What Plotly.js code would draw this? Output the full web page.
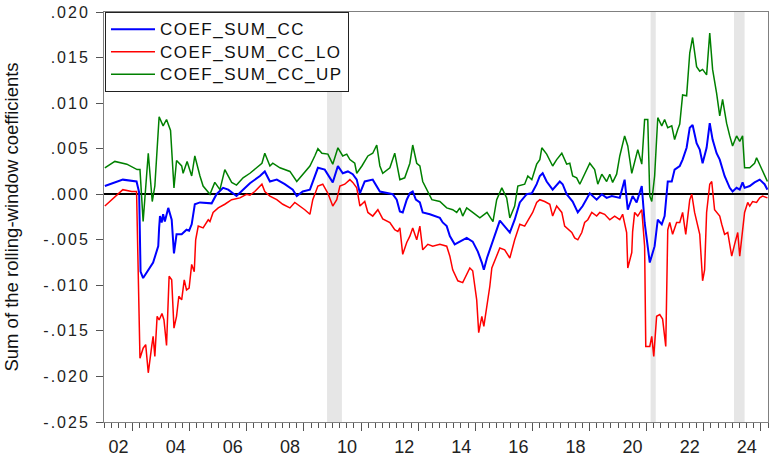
<!DOCTYPE html>
<html>
<head>
<meta charset="utf-8">
<script src="https://cdn.plot.ly/plotly-3.0.1.min.js"></script>
<style>
html,body{margin:0;padding:0;background:#fff;}
#chart{width:773px;height:456px;}
.legendtext{letter-spacing:1.5px;font-size:17px !important;}
.ytick text{letter-spacing:2px;}
</style>
</head>
<body>
<div id="chart"></div>
<script>
// ---- data (decimal year, value) ----
const ccT = [2002.03,2002.66,2003.14,2003.23,2003.28,2003.37,2003.72,2003.90,2003.93,2003.96,2004.02,2004.07,2004.13,2004.25,2004.37,2004.45,2004.54,2004.72,2004.89,2004.98,2005.07,2005.18,2005.36,2005.77,2005.94,2006.17,2006.35,2006.64,2006.87,2007.11,2007.46,2007.63,2007.81,2008.05,2008.33,2008.61,2008.75,2008.96,2009.21,2009.38,2009.49,2009.73,2009.91,2010.01,2010.19,2010.36,2010.54,2010.71,2010.85,2010.96,2011.13,2011.41,2011.66,2011.90,2012.11,2012.25,2012.36,2012.46,2012.60,2012.71,2012.81,2012.92,2013.06,2013.16,2013.41,2013.76,2013.86,2014.00,2014.11,2014.28,2014.46,2014.70,2014.91,2015.09,2015.23,2015.30,2015.41,2015.51,2015.62,2015.75,2015.86,2016.21,2016.38,2016.56,2016.80,2016.98,2017.15,2017.26,2017.36,2017.50,2017.71,2017.96,2018.06,2018.20,2018.41,2018.59,2018.76,2019.01,2019.25,2019.43,2019.60,2019.78,2020.06,2020.23,2020.34,2020.51,2020.65,2020.83,2020.93,2021.11,2021.28,2021.39,2021.53,2021.63,2021.74,2021.88,2021.98,2022.16,2022.26,2022.40,2022.51,2022.61,2022.75,2022.86,2022.96,2023.10,2023.21,2023.31,2023.45,2023.56,2023.73,2023.91,2024.01,2024.15,2024.26,2024.36,2024.43,2024.61,2024.78,2024.96,2025.13,2025.23];
const ccV = [0.0009,0.0016,0.0014,0.0002,-0.0085,-0.0092,-0.0075,-0.0057,-0.0037,-0.0024,-0.0031,-0.0022,-0.0030,-0.0015,-0.0028,-0.0065,-0.0044,-0.0044,-0.0039,-0.0040,-0.0033,-0.0011,-0.0009,-0.0010,0.0000,0.0007,0.0005,-0.0002,0.0005,0.0012,0.0020,0.0025,0.0014,0.0016,0.0011,0.0005,-0.0002,0.0003,0.0005,0.0020,0.0029,0.0027,0.0018,0.0013,0.0031,0.0023,0.0025,0.0022,0.0016,0.0001,0.0014,0.0016,0.0003,0.0001,0.0000,-0.0006,-0.0019,-0.0020,-0.0006,0.0001,0.0003,-0.0006,-0.0009,-0.0020,-0.0022,-0.0026,-0.0031,-0.0035,-0.0046,-0.0055,-0.0052,-0.0048,-0.0052,-0.0063,-0.0075,-0.0083,-0.0070,-0.0061,-0.0050,-0.0039,-0.0029,-0.0042,-0.0028,-0.0009,0.0000,0.0001,0.0011,0.0020,0.0023,0.0014,0.0005,0.0014,0.0011,0.0000,-0.0008,-0.0020,-0.0013,0.0001,-0.0006,0.0000,-0.0004,-0.0002,-0.0004,0.0016,-0.0017,-0.0002,-0.0009,0.0009,-0.0031,-0.0075,-0.0057,-0.0028,-0.0033,-0.0024,0.0014,0.0014,0.0027,0.0031,0.0038,0.0051,0.0073,0.0076,0.0056,0.0049,0.0034,0.0051,0.0078,0.0060,0.0045,0.0038,0.0020,0.0007,0.0003,0.0007,0.0005,0.0013,0.0007,0.0009,0.0013,0.0016,0.0011,0.0005];

const loT = [2002.03,2002.66,2002.97,2003.14,2003.26,2003.37,2003.46,2003.55,2003.67,2003.72,2003.78,2003.86,2003.93,2004.03,2004.10,2004.19,2004.28,2004.37,2004.45,2004.54,2004.62,2004.72,2004.81,2004.89,2004.98,2005.07,2005.16,2005.21,2005.30,2005.47,2005.65,2005.71,2005.82,2006.00,2006.23,2006.47,2006.76,2006.99,2007.11,2007.28,2007.53,2007.63,2007.81,2008.05,2008.26,2008.51,2008.68,2008.86,2009.03,2009.21,2009.31,2009.49,2009.66,2009.84,2010.01,2010.15,2010.26,2010.43,2010.61,2010.71,2010.85,2010.96,2011.13,2011.24,2011.41,2011.59,2011.76,2012.01,2012.18,2012.29,2012.36,2012.46,2012.60,2012.71,2012.81,2012.95,2013.06,2013.16,2013.34,2013.51,2013.76,2014.00,2014.11,2014.21,2014.39,2014.56,2014.70,2014.81,2014.91,2015.05,2015.12,2015.23,2015.30,2015.41,2015.51,2015.58,2015.75,2015.86,2016.03,2016.21,2016.38,2016.56,2016.73,2017.01,2017.15,2017.26,2017.43,2017.61,2017.71,2017.85,2018.03,2018.13,2018.38,2018.48,2018.59,2018.73,2018.83,2018.94,2019.08,2019.25,2019.36,2019.53,2019.71,2019.88,2020.06,2020.16,2020.30,2020.34,2020.48,2020.51,2020.58,2020.69,2020.83,2020.93,2020.97,2021.11,2021.18,2021.25,2021.35,2021.46,2021.56,2021.67,2021.74,2021.81,2021.91,2022.05,2022.16,2022.26,2022.37,2022.51,2022.58,2022.68,2022.86,2022.96,2023.03,2023.10,2023.21,2023.28,2023.38,2023.56,2023.63,2023.73,2023.84,2023.98,2024.08,2024.19,2024.26,2024.36,2024.43,2024.54,2024.61,2024.71,2024.85,2024.96,2025.06,2025.23];
const loV = [-0.0013,0.0005,0.0003,0.0003,-0.0180,-0.0169,-0.0165,-0.0196,-0.0167,-0.0156,-0.0178,-0.0134,-0.0138,-0.0131,-0.0138,-0.0166,-0.0090,-0.0094,-0.0147,-0.0134,-0.0112,-0.0116,-0.0094,-0.0105,-0.0103,-0.0077,-0.0085,-0.0050,-0.0035,-0.0037,-0.0028,-0.0030,-0.0020,-0.0015,-0.0011,-0.0006,-0.0004,0.0000,-0.0001,0.0003,0.0011,0.0003,-0.0002,-0.0006,-0.0011,-0.0015,-0.0009,-0.0013,-0.0017,-0.0022,-0.0006,0.0009,0.0011,0.0001,-0.0013,-0.0006,0.0009,0.0011,0.0016,0.0013,0.0007,-0.0013,-0.0008,-0.0020,-0.0024,-0.0017,-0.0027,-0.0031,-0.0039,-0.0041,-0.0037,-0.0066,-0.0053,-0.0046,-0.0037,-0.0050,-0.0035,-0.0061,-0.0055,-0.0057,-0.0055,-0.0057,-0.0068,-0.0083,-0.0095,-0.0097,-0.0088,-0.0081,-0.0084,-0.0116,-0.0152,-0.0134,-0.0145,-0.0123,-0.0101,-0.0081,-0.0068,-0.0059,-0.0061,-0.0070,-0.0050,-0.0033,-0.0035,-0.0020,-0.0009,-0.0006,-0.0008,-0.0011,-0.0024,-0.0013,-0.0020,-0.0035,-0.0042,-0.0048,-0.0050,-0.0042,-0.0031,-0.0028,-0.0020,-0.0024,-0.0020,-0.0022,-0.0028,-0.0024,-0.0028,-0.0022,-0.0042,-0.0081,-0.0064,-0.0041,-0.0020,-0.0024,-0.0017,-0.0057,-0.0167,-0.0167,-0.0156,-0.0178,-0.0134,-0.0132,-0.0137,-0.0167,-0.0039,-0.0031,-0.0044,-0.0031,-0.0031,-0.0020,-0.0044,-0.0006,0.0000,-0.0020,-0.0044,-0.0095,-0.0083,-0.0020,0.0011,0.0014,-0.0017,-0.0024,-0.0033,-0.0044,-0.0042,-0.0068,-0.0055,-0.0042,-0.0068,-0.0035,-0.0020,-0.0009,-0.0013,-0.0008,-0.0009,-0.0004,-0.0002,-0.0004];

const upT = [2002.03,2002.38,2002.80,2003.16,2003.26,2003.37,2003.55,2003.69,2003.78,2003.93,2004.07,2004.19,2004.33,2004.45,2004.54,2004.72,2004.77,2004.91,2005.07,2005.18,2005.36,2005.47,2005.71,2005.88,2006.06,2006.23,2006.47,2006.64,2006.87,2007.11,2007.53,2007.63,2007.81,2007.91,2008.16,2008.51,2008.75,2008.96,2009.21,2009.38,2009.49,2009.63,2009.84,2010.01,2010.19,2010.36,2010.50,2010.61,2010.78,2010.85,2011.03,2011.24,2011.41,2011.55,2011.66,2011.76,2012.01,2012.18,2012.36,2012.53,2012.71,2012.81,2012.95,2013.06,2013.16,2013.48,2013.76,2014.00,2014.21,2014.35,2014.46,2014.56,2014.70,2014.91,2015.16,2015.41,2015.62,2015.75,2015.93,2016.10,2016.21,2016.38,2016.49,2016.73,2016.84,2016.98,2017.15,2017.26,2017.33,2017.50,2017.61,2017.71,2017.85,2018.03,2018.20,2018.31,2018.41,2018.55,2018.66,2018.83,2019.01,2019.18,2019.29,2019.43,2019.60,2019.71,2019.81,2019.95,2020.06,2020.23,2020.34,2020.48,2020.58,2020.69,2020.83,2020.93,2021.04,2021.11,2021.18,2021.28,2021.39,2021.53,2021.63,2021.74,2021.88,2021.98,2022.09,2022.16,2022.26,2022.40,2022.51,2022.61,2022.75,2022.86,2022.96,2023.10,2023.21,2023.31,2023.45,2023.56,2023.66,2023.80,2023.91,2024.01,2024.15,2024.26,2024.36,2024.43,2024.61,2024.78,2024.85,2025.03,2025.23];
const upV = [0.0029,0.0036,0.0033,0.0027,0.0027,-0.0030,0.0045,-0.0008,0.0009,0.0085,0.0075,0.0082,0.0070,0.0007,0.0037,0.0031,0.0023,0.0036,0.0020,0.0042,0.0020,0.0009,0.0000,0.0013,0.0005,0.0027,0.0013,0.0010,0.0018,0.0023,0.0034,0.0045,0.0031,0.0034,0.0029,0.0025,0.0014,0.0022,0.0031,0.0042,0.0050,0.0045,0.0044,0.0033,0.0051,0.0042,0.0044,0.0038,0.0034,0.0023,0.0031,0.0042,0.0045,0.0054,0.0031,0.0023,0.0029,0.0045,0.0016,0.0018,0.0034,0.0054,0.0034,0.0031,0.0014,-0.0006,-0.0008,-0.0015,-0.0017,-0.0020,-0.0015,-0.0024,-0.0015,-0.0020,-0.0026,-0.0020,-0.0030,-0.0006,0.0007,-0.0004,-0.0026,-0.0013,0.0009,0.0011,0.0020,0.0016,0.0033,0.0038,0.0051,0.0044,0.0038,0.0031,0.0038,0.0045,0.0033,0.0034,0.0020,0.0018,0.0011,0.0023,0.0034,0.0027,0.0011,0.0022,0.0014,0.0022,0.0013,0.0022,0.0042,0.0064,0.0053,0.0023,0.0034,0.0049,0.0033,0.0082,0.0082,-0.0002,-0.0008,0.0020,0.0084,0.0075,0.0082,0.0073,0.0075,0.0060,0.0071,0.0077,0.0109,0.0108,0.0155,0.0172,0.0140,0.0135,0.0137,0.0131,0.0177,0.0137,0.0111,0.0086,0.0104,0.0078,0.0064,0.0053,0.0064,0.0058,0.0064,0.0029,0.0029,0.0034,0.0040,0.0027,0.0014];

const seriesNames = ['COEF_SUM_CC', 'COEF_SUM_CC_LO', 'COEF_SUM_CC_UP'];
const bandStart = [2009.81, 2021.14, 2024.06];
const bandEnd   = [2010.33, 2021.32, 2024.43];

const xTickVals = [2003,2005,2007,2009,2011,2013,2015,2017,2019,2021,2023,2025];
const xTickText = ['02','04','06','08','10','12','14','16','18','20','22','24'];
const yTickVals = [-0.025,-0.020,-0.015,-0.010,-0.005,0,0.005,0.010,0.015,0.020];
const yTickText = ['-.025','-.020','-.015','-.010','-.005','.000','.005','.010','.015','.020'];

const FONT = 'Liberation Sans, Arial, sans-serif';

const traces = [
  {x: ccT, y: ccV, name: seriesNames[0], type: 'scatter', mode: 'lines', line: {color: '#0000ff', width: 2}},
  {x: loT, y: loV, name: seriesNames[1], type: 'scatter', mode: 'lines', line: {color: '#ff0000', width: 1.5}},
  {x: upT, y: upV, name: seriesNames[2], type: 'scatter', mode: 'lines', line: {color: '#008000', width: 1.5}}
];

const shapes = bandStart.map((s, i) => ({
  type: 'rect', xref: 'x', yref: 'paper', x0: s, x1: bandEnd[i], y0: 0, y1: 1,
  fillcolor: '#e6e6e6', line: {width: 0}, layer: 'below'
}));

const layout = {
  width: 773, height: 456,
  margin: {l: 104, r: 5, t: 12, b: 34, pad: 0},
  paper_bgcolor: '#ffffff', plot_bgcolor: '#ffffff',
  font: {family: FONT, color: '#222'},
  showlegend: true,
  legend: {
    x: 0.0015, y: 1, xanchor: 'left', yanchor: 'top',
    bgcolor: '#ffffff', bordercolor: '#222', borderwidth: 1,
    font: {family: FONT, size: 15, color: '#111'},
    itemwidth: 44, tracegroupgap: 0
  },
  xaxis: {
    range: [2002, 2025.25], showgrid: false, zeroline: false,
    showline: true, linecolor: '#808080', linewidth: 1, mirror: true,
    tickmode: 'array', tickvals: xTickVals, ticktext: xTickText,
    ticks: 'outside', ticklen: 8, tickcolor: '#555', tickwidth: 1,
    ticklabelshift: -14,
    tickfont: {family: FONT, size: 18, color: '#222'},
    minor: {ticks: 'outside', ticklen: 5, tick0: 2002, dtick: 0.25, tickcolor: '#555', tickwidth: 1, showgrid: false}
  },
  yaxis: {
    range: [-0.025, 0.020], showgrid: false,
    zeroline: true, zerolinecolor: '#000', zerolinewidth: 2,
    showline: true, linecolor: '#808080', linewidth: 1, mirror: true,
    tickmode: 'array', tickvals: yTickVals, ticktext: yTickText,
    ticks: 'outside', ticklen: 7, tickcolor: '#555', ticklabelstandoff: 3,
    tickfont: {family: FONT, size: 16, color: '#222'},
    title: {text: 'Sum of the rolling-window coefficients', font: {family: FONT, size: 18.5, color: '#111'}, standoff: 19}
  },
  shapes: shapes
};

Plotly.newPlot('chart', traces, layout, {staticPlot: true, displayModeBar: false});
</script>
</body>
</html>
